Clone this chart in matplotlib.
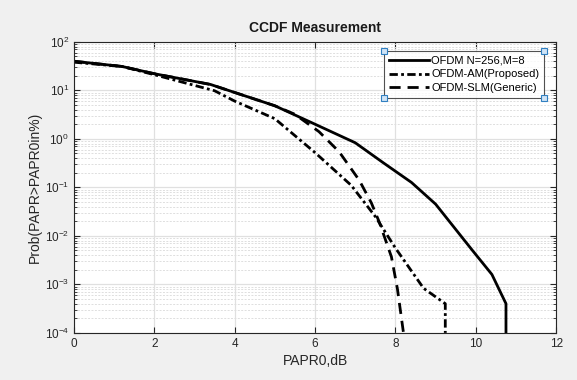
import matplotlib
matplotlib.use("Agg")
import matplotlib.pyplot as plt
from matplotlib.ticker import LogLocator, NullFormatter

plt.rcParams['font.family'] = ['Liberation Sans', 'DejaVu Sans']

# CCDF curves (values in %)
papr_ofdm = [0, 1.2, 2, 3.4, 5, 6, 7, 7.7, 8.4, 9, 9.9, 10.4, 10.75, 10.75]
ccdf_ofdm = [39.8, 31, 22, 13.2, 4.8, 2.0, 0.83, 0.32, 0.126, 0.045, 0.0052, 0.0016, 0.0004, 0.0001]

papr_am = [0, 1.2, 2, 3.5, 4, 5, 6, 6.9, 7.5, 8, 8.7, 9.24, 9.24]
ccdf_am = [38, 31, 21, 9.8, 6.0, 2.6, 0.52, 0.11, 0.025, 0.0056, 0.00083, 0.0004, 0.0001]

papr_slm = [0, 1.2, 2, 3.4, 5, 5.5, 6.1, 6.6, 7.1, 7.4, 7.6, 7.9, 8.05, 8.2]
ccdf_slm = [39.8, 31, 22, 13.2, 4.8, 3.2, 1.4, 0.54, 0.14, 0.048, 0.019, 0.0037, 0.0008, 0.0001]

labels = ['OFDM N=256,M=8', 'OFDM-AM(Proposed)', 'OFDM-SLM(Generic)']

fig = plt.figure(figsize=(5.77, 3.80), dpi=100, facecolor='#f0f0f0')
ax = fig.add_axes([0.128, 0.124, 0.836, 0.766])

ax.semilogy(papr_ofdm, ccdf_ofdm, color='black', lw=2, ls='-', label=labels[0])
ax.semilogy(papr_am, ccdf_am, color='black', lw=2, ls=(0, (3, 1.2, 1, 1.2)), label=labels[1])
ax.semilogy(papr_slm, ccdf_slm, color='black', lw=2, ls=(0, (4, 2.5)), label=labels[2])

ax.set_xlim(0, 12)
ax.set_ylim(1e-4, 1e2)
ax.set_xticks([0, 2, 4, 6, 8, 10, 12])
ax.yaxis.set_major_locator(LogLocator(base=10, numticks=10))
ax.yaxis.set_minor_locator(LogLocator(base=10, subs=range(2, 10), numticks=20))
ax.yaxis.set_minor_formatter(NullFormatter())

ax.grid(True, which='major', color='#e0e0e0', lw=0.9, ls='-')
ax.grid(True, which='minor', axis='y', color='#dedede', lw=0.7, ls=(0, (2, 1.5)))

ax.tick_params(which='both', direction='in', top=True, right=True, labelsize=8.5, colors='#262626')
ax.tick_params(which='major', length=4)
ax.tick_params(which='minor', length=2)
for s in ax.spines.values():
    s.set_color('#262626')
    s.set_linewidth(0.8)

ax.set_title('CCDF Measurement', fontsize=10, fontweight='bold', color='#1a1a1a', pad=7)
ax.set_xlabel('PAPR0,dB', fontsize=10, color='#262626', labelpad=3)
ax.set_ylabel('Prob(PAPR>PAPR0in%)', fontsize=10, color='#262626', labelpad=2)

leg = ax.legend(loc='upper right', bbox_to_anchor=(0.975, 0.97), fontsize=8, frameon=True,
                fancybox=False, edgecolor='#262626', handlelength=3.6, handletextpad=0.15,
                borderpad=0.45, labelspacing=0.35, borderaxespad=0)
leg.get_frame().set_linewidth(0.8)

# selection handles at legend corners
fig.canvas.draw()
bb = leg.get_window_extent().transformed(fig.transFigure.inverted())
hx = [bb.x0, bb.x1, bb.x0, bb.x1]
hy = [bb.y0, bb.y0, bb.y1, bb.y1]
fig.lines.append(plt.Line2D(hx, hy, transform=fig.transFigure, ls='none', marker='s',
                            ms=4, mfc='#cfe3f5', mec='#2f7fc1', mew=0.8))

fig.savefig('out.png', dpi=100, facecolor=fig.get_facecolor())
